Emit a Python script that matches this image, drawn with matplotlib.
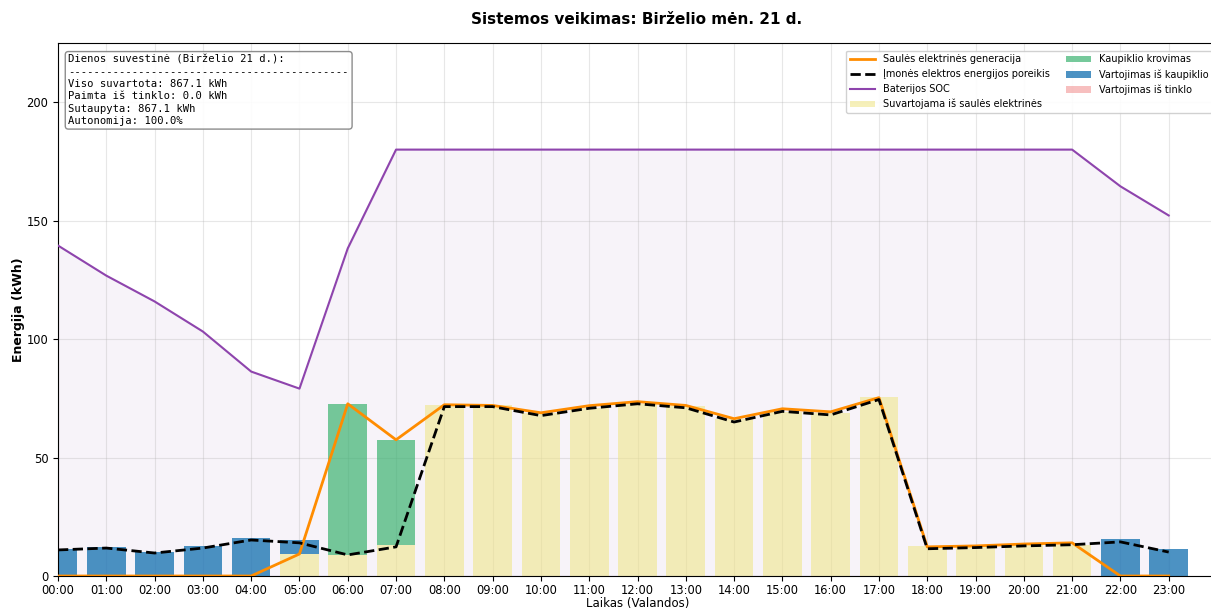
import matplotlib
matplotlib.use('Agg')
import matplotlib.pyplot as plt
import numpy as np

# Hourly data (kWh)
hours = list(range(24))
hour_labels = [f"{h:02d}:00" for h in hours]

solar_gen = [0, 0, 0, 0, 0, 9.3, 72.7, 57.5, 72.3, 72.0, 68.9, 71.9,
             73.6, 72.0, 66.4, 70.6, 69.3, 75.3, 12.3, 12.7, 13.5, 14.0, 0, 0]
demand = [11.0, 11.8, 9.7, 11.8, 15.2, 14.0, 8.9, 12.3, 71.5, 71.5, 67.7, 70.8,
          72.7, 71.0, 65.0, 69.5, 68.0, 74.5, 11.5, 12.0, 12.7, 13.2, 14.4, 10.1]
battery_soc = [139.5, 126.8, 115.9, 103.2, 86.3, 79.1, 138.3, 180, 180, 180, 180, 180,
               180, 180, 180, 180, 180, 180, 180, 180, 180, 180, 164.5, 152.2]

solar_used = [0, 0, 0, 0, 0, 9.3, 8.9, 13.0, 72.3, 72.3, 68.9, 71.0,
              72.7, 71.9, 66.4, 69.3, 68.9, 75.7, 12.8, 12.8, 13.0, 13.1, 0, 0]
charging = [0, 0, 0, 0, 0, 0, 63.8, 44.5, 0, 0, 0, 0,
            0, 0, 0, 0, 0, 0, 0, 0, 0, 0, 0, 0]
from_battery = [11.4, 12.4, 10.3, 12.5, 16.0, 5.9, 0, 0, 0, 0, 0, 0,
                0, 0, 0, 0, 0, 0, 0, 0, 0, 0, 15.6, 11.4]
from_grid = [0] * 24

summary_lines = [
    "Dienos suvestinė (Birželio 21 d.):",
    "-" * 44,
    "Viso suvartota: 867.1 kWh",
    "Paimta iš tinklo: 0.0 kWh",
    "Sutaupyta: 867.1 kWh",
    "Autonomija: 100.0%",
]

W, H = 1211, 609
fig = plt.figure(figsize=(W / 100, H / 100), dpi=100)
ax = fig.add_axes([58 / W, (H - 576) / H, (1217 - 58) / W, (576 - 43) / H])

x = np.array(hours)
su = np.array(solar_used)
fb = np.array(from_battery)

# SOC shaded area
ax.fill_between(x, battery_soc, 0, color='#9b59b6', alpha=0.07, zorder=0)

l1, = ax.plot(x, solar_gen, color='darkorange', lw=2,
              label='Saulės elektrinės generacija', zorder=4)
l2, = ax.plot(x, demand, color='black', lw=2, ls='--',
              label='Įmonės elektros energijos poreikis', zorder=5)
l3, = ax.plot(x, battery_soc, color='#8e44ad', lw=1.5,
              label='Baterijos SOC', zorder=3)

bar_w = 0.8
ax.bar(x, solar_used, bar_w, color='khaki', alpha=0.6,
       label='Suvartojama iš saulės elektrinės', zorder=2)
ax.bar(x, charging, bar_w, bottom=su, color='mediumseagreen', alpha=0.7,
       label='Kaupiklio krovimas', zorder=2)
ax.bar(x, from_battery, bar_w, bottom=su, color='#1f77b4', alpha=0.8,
       label='Vartojimas iš kaupiklio', zorder=2)
ax.bar(x, from_grid, bar_w, bottom=su + fb, color='lightcoral', alpha=0.5,
       label='Vartojimas iš tinklo', zorder=2)

ax.set_xlim(0, 24)
ax.set_ylim(0, 225)
ax.set_xticks(x)
ax.set_xticklabels(hour_labels, fontsize=8.3)
ax.set_yticks([0, 50, 100, 150, 200])
ax.tick_params(axis='y', labelsize=8.3)
ax.tick_params(axis='x', pad=2.5)
ax.grid(True, alpha=0.3, zorder=0)
ax.set_axisbelow(True)

ax.set_xlabel('Laikas (Valandos)', fontsize=8.5, labelpad=0)
ax.set_ylabel('Energija (kWh)', fontsize=9, fontweight='bold', labelpad=1)
fig.text(637 / W, 1 - 20 / H, 'Sistemos veikimas: Birželio mėn. 21 d.',
         ha='center', va='center', fontsize=11, fontweight='bold')

# legend order: lines first, then the bar layers
handles = [l1, l2, l3] + [c for c in ax.containers]
labels = [h.get_label() for h in handles]
ax.legend(handles, labels, loc='upper right', ncol=2, fontsize=7,
          framealpha=0.9, handlelength=2.6, columnspacing=1.6,
          bbox_to_anchor=(1.0, 0.995))

ax.text(0.009, 0.978, "\n".join(summary_lines), transform=ax.transAxes,
        va='top', ha='left', family='monospace', fontsize=7.6, linespacing=1.28,
        bbox=dict(boxstyle='round', facecolor='white', edgecolor='gray', alpha=0.9))

fig.savefig('out.png', dpi=100)
